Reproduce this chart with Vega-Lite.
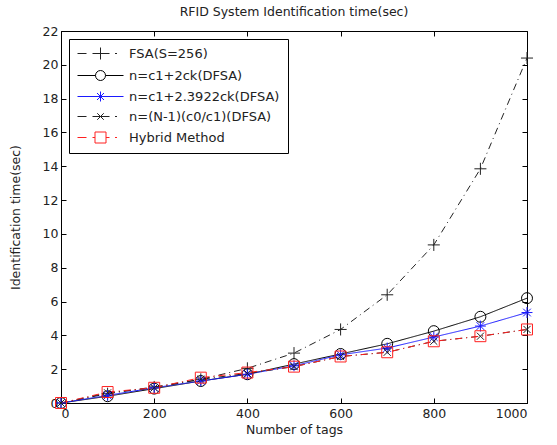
{
  "$schema": "https://vega.github.io/schema/vega-lite/v6.json",
  "autosize": "none",
  "width": 466,
  "height": 372,
  "padding": {"left": 61, "top": 31, "right": 30, "bottom": 42},
  "background": "white",
  "title": {"text": "RFID System Identification time(sec)", "fontSize": 12.5, "fontWeight": "normal", "font": "DejaVu Sans", "color": "#222", "offset": 7},
  "config": {
    "view": {"stroke": "black", "strokeWidth": 1},
    "axis": {"grid": false, "domainColor": "black", "tickColor": "black", "labelFont": "DejaVu Sans", "labelFontSize": 12.5, "labelColor": "#222", "titleFont": "DejaVu Sans", "titleFontSize": 12.5, "titleFontWeight": "normal", "titleColor": "#222", "tickSize": -5},
    "legend": {"labelFont": "DejaVu Sans", "labelFontSize": 13, "labelColor": "#222"}
  },
  "data": {"values": [
    {"tags": 0, "time": 0, "method": "FSA(S=256)"},
    {"tags": 100, "time": 0.55, "method": "FSA(S=256)"},
    {"tags": 200, "time": 0.95, "method": "FSA(S=256)"},
    {"tags": 300, "time": 1.4, "method": "FSA(S=256)"},
    {"tags": 400, "time": 2.05, "method": "FSA(S=256)"},
    {"tags": 500, "time": 2.95, "method": "FSA(S=256)"},
    {"tags": 600, "time": 4.35, "method": "FSA(S=256)"},
    {"tags": 700, "time": 6.4, "method": "FSA(S=256)"},
    {"tags": 800, "time": 9.35, "method": "FSA(S=256)"},
    {"tags": 900, "time": 13.85, "method": "FSA(S=256)"},
    {"tags": 1000, "time": 20.4, "method": "FSA(S=256)"},
    {"tags": 0, "time": 0, "method": "n=c1+2ck(DFSA)"},
    {"tags": 100, "time": 0.4, "method": "n=c1+2ck(DFSA)"},
    {"tags": 200, "time": 0.85, "method": "n=c1+2ck(DFSA)"},
    {"tags": 300, "time": 1.3, "method": "n=c1+2ck(DFSA)"},
    {"tags": 400, "time": 1.7, "method": "n=c1+2ck(DFSA)"},
    {"tags": 500, "time": 2.3, "method": "n=c1+2ck(DFSA)"},
    {"tags": 600, "time": 2.9, "method": "n=c1+2ck(DFSA)"},
    {"tags": 700, "time": 3.5, "method": "n=c1+2ck(DFSA)"},
    {"tags": 800, "time": 4.25, "method": "n=c1+2ck(DFSA)"},
    {"tags": 900, "time": 5.1, "method": "n=c1+2ck(DFSA)"},
    {"tags": 1000, "time": 6.2, "method": "n=c1+2ck(DFSA)"},
    {"tags": 0, "time": 0, "method": "n=c1+2.3922ck(DFSA)"},
    {"tags": 100, "time": 0.45, "method": "n=c1+2.3922ck(DFSA)"},
    {"tags": 200, "time": 0.9, "method": "n=c1+2.3922ck(DFSA)"},
    {"tags": 300, "time": 1.3, "method": "n=c1+2.3922ck(DFSA)"},
    {"tags": 400, "time": 1.7, "method": "n=c1+2.3922ck(DFSA)"},
    {"tags": 500, "time": 2.2, "method": "n=c1+2.3922ck(DFSA)"},
    {"tags": 600, "time": 2.85, "method": "n=c1+2.3922ck(DFSA)"},
    {"tags": 700, "time": 3.25, "method": "n=c1+2.3922ck(DFSA)"},
    {"tags": 800, "time": 3.9, "method": "n=c1+2.3922ck(DFSA)"},
    {"tags": 900, "time": 4.55, "method": "n=c1+2.3922ck(DFSA)"},
    {"tags": 1000, "time": 5.35, "method": "n=c1+2.3922ck(DFSA)"},
    {"tags": 0, "time": 0, "method": "n=(N-1)(c0/c1)(DFSA)"},
    {"tags": 100, "time": 0.6, "method": "n=(N-1)(c0/c1)(DFSA)"},
    {"tags": 200, "time": 0.9, "method": "n=(N-1)(c0/c1)(DFSA)"},
    {"tags": 300, "time": 1.4, "method": "n=(N-1)(c0/c1)(DFSA)"},
    {"tags": 400, "time": 1.75, "method": "n=(N-1)(c0/c1)(DFSA)"},
    {"tags": 500, "time": 2.15, "method": "n=(N-1)(c0/c1)(DFSA)"},
    {"tags": 600, "time": 2.75, "method": "n=(N-1)(c0/c1)(DFSA)"},
    {"tags": 700, "time": 3.0, "method": "n=(N-1)(c0/c1)(DFSA)"},
    {"tags": 800, "time": 3.65, "method": "n=(N-1)(c0/c1)(DFSA)"},
    {"tags": 900, "time": 3.95, "method": "n=(N-1)(c0/c1)(DFSA)"},
    {"tags": 1000, "time": 4.35, "method": "n=(N-1)(c0/c1)(DFSA)"},
    {"tags": 0, "time": 0, "method": "Hybrid Method"},
    {"tags": 100, "time": 0.65, "method": "Hybrid Method"},
    {"tags": 200, "time": 0.9, "method": "Hybrid Method"},
    {"tags": 300, "time": 1.5, "method": "Hybrid Method"},
    {"tags": 400, "time": 1.8, "method": "Hybrid Method"},
    {"tags": 500, "time": 2.15, "method": "Hybrid Method"},
    {"tags": 600, "time": 2.75, "method": "Hybrid Method"},
    {"tags": 700, "time": 3.0, "method": "Hybrid Method"},
    {"tags": 800, "time": 3.65, "method": "Hybrid Method"},
    {"tags": 900, "time": 3.95, "method": "Hybrid Method"},
    {"tags": 1000, "time": 4.35, "method": "Hybrid Method"}
  ]},
  "layer": [
    {
      "mark": {"type": "line", "strokeWidth": 1},
      "encoding": {
        "x": {"field": "tags", "type": "quantitative", "scale": {"domain": [0, 1000], "nice": false}, "axis": {"values": [0, 200, 400, 600, 800, 1000], "format": "d", "title": "Number of tags", "labelPadding": 9, "titlePadding": 4}},
        "y": {"field": "time", "type": "quantitative", "scale": {"domain": [0, 22], "nice": false}, "axis": {"values": [0, 2, 4, 6, 8, 10, 12, 14, 16, 18, 20, 22], "title": "Identification time(sec)", "labelPadding": 8, "titlePadding": 20}},
        "color": {"field": "method", "type": "nominal", "sort": null,
          "scale": {"domain": ["FSA(S=256)", "n=c1+2ck(DFSA)", "n=c1+2.3922ck(DFSA)", "n=(N-1)(c0/c1)(DFSA)", "Hybrid Method"], "range": ["#222222", "#000000", "#1a1aff", "#222222", "#ff2020"]},
          "legend": null},
        "strokeDash": {"field": "method", "type": "nominal", "sort": null,
          "scale": {"domain": ["FSA(S=256)", "n=c1+2ck(DFSA)", "n=c1+2.3922ck(DFSA)", "n=(N-1)(c0/c1)(DFSA)", "Hybrid Method"], "range": [[7, 4, 1, 4], [1, 0], [1, 0], [7, 4, 1, 4], [7, 4, 1, 4]]},
          "legend": null}
      }
    },
    {
      "mark": {"type": "point", "filled": false, "strokeWidth": 1, "size": 120, "opacity": 1},
      "encoding": {
        "x": {"field": "tags", "type": "quantitative", "axis": {"orient": "top", "values": [0, 200, 400, 600, 800, 1000], "labels": false, "title": null, "domain": false}},
        "y": {"field": "time", "type": "quantitative", "axis": {"orient": "right", "values": [0, 2, 4, 6, 8, 10, 12, 14, 16, 18, 20, 22], "labels": false, "title": null, "domain": false}},
        "color": {"field": "method", "type": "nominal", "sort": null,
          "scale": {"domain": ["FSA(S=256)", "n=c1+2ck(DFSA)", "n=c1+2.3922ck(DFSA)", "n=(N-1)(c0/c1)(DFSA)", "Hybrid Method"], "range": ["#222222", "#000000", "#1a1aff", "#222222", "#ff2020"]},
          "legend": null},
        "shape": {"field": "method", "type": "nominal", "sort": null,
          "scale": {"domain": ["FSA(S=256)", "n=c1+2ck(DFSA)", "n=c1+2.3922ck(DFSA)", "n=(N-1)(c0/c1)(DFSA)", "Hybrid Method"], "range": ["M-1.1,0H1.1M0,-1.1V1.1", "circle", "M-1,0H1M0,-1V1M-0.7,-0.7L0.7,0.7M-0.7,0.7L0.7,-0.7", "M-0.65,-0.65L0.65,0.65M-0.65,0.65L0.65,-0.65", "square"]},
          "legend": null}
      }
    },
    {
      "mark": {"type": "point", "filled": false, "strokeWidth": 1, "opacity": 0},
      "encoding": {
        "x": {"field": "tags", "type": "quantitative", "axis": null},
        "y": {"field": "time", "type": "quantitative", "axis": null},
        "color": {"field": "method", "type": "nominal", "sort": null,
          "scale": {"domain": ["FSA(S=256)", "n=c1+2ck(DFSA)", "n=c1+2.3922ck(DFSA)", "n=(N-1)(c0/c1)(DFSA)", "Hybrid Method"], "range": ["#222222", "#000000", "#1a1aff", "#222222", "#ff2020"]},
          "legend": {"title": null, "orient": "top-left", "offset": 8, "strokeColor": "black", "fillColor": "white", "padding": 8, "rowPadding": 6,
            "symbolSize": 100, "symbolOffset": 17, "labelOffset": 22, "symbolStrokeWidth": 1, "symbolOpacity": 1}},
        "shape": {"field": "method", "type": "nominal", "sort": null,
          "scale": {"domain": ["FSA(S=256)", "n=c1+2ck(DFSA)", "n=c1+2.3922ck(DFSA)", "n=(N-1)(c0/c1)(DFSA)", "Hybrid Method"],
            "range": [
              "M-4.6,0H-2.8M-1.6,0H1.8M2.9,0H3.3M0,-1.2V1.2",
              "M-4.6,0H-1M1,0H4.6M1,0A1,1 0 1,1 -1,0A1,1 0 1,1 1,0",
              "M-4.6,0H4.6M0,-1V1M-0.7,-0.7L0.7,0.7M-0.7,0.7L0.7,-0.7",
              "M-4.6,0H-2.8M-1.6,0H1.8M2.9,0H3.3M-0.65,-0.65L0.65,0.65M-0.65,0.65L0.65,-0.65",
              "M-4.6,0H-2.8M-1.6,0H-1.1M1.1,0H1.8M2.9,0H3.3M-1.1,-1.1H1.1V1.1H-1.1Z"
            ]},
          "legend": {"title": null, "orient": "top-left", "offset": 8, "strokeColor": "black", "fillColor": "white", "padding": 8, "rowPadding": 6,
            "symbolSize": 100, "symbolOffset": 17, "labelOffset": 22, "symbolStrokeWidth": 1, "symbolOpacity": 1}}
      }
    }
  ],
  "resolve": {"axis": {"x": "independent", "y": "independent"}, "scale": {"shape": "independent", "color": "independent"}}
}
